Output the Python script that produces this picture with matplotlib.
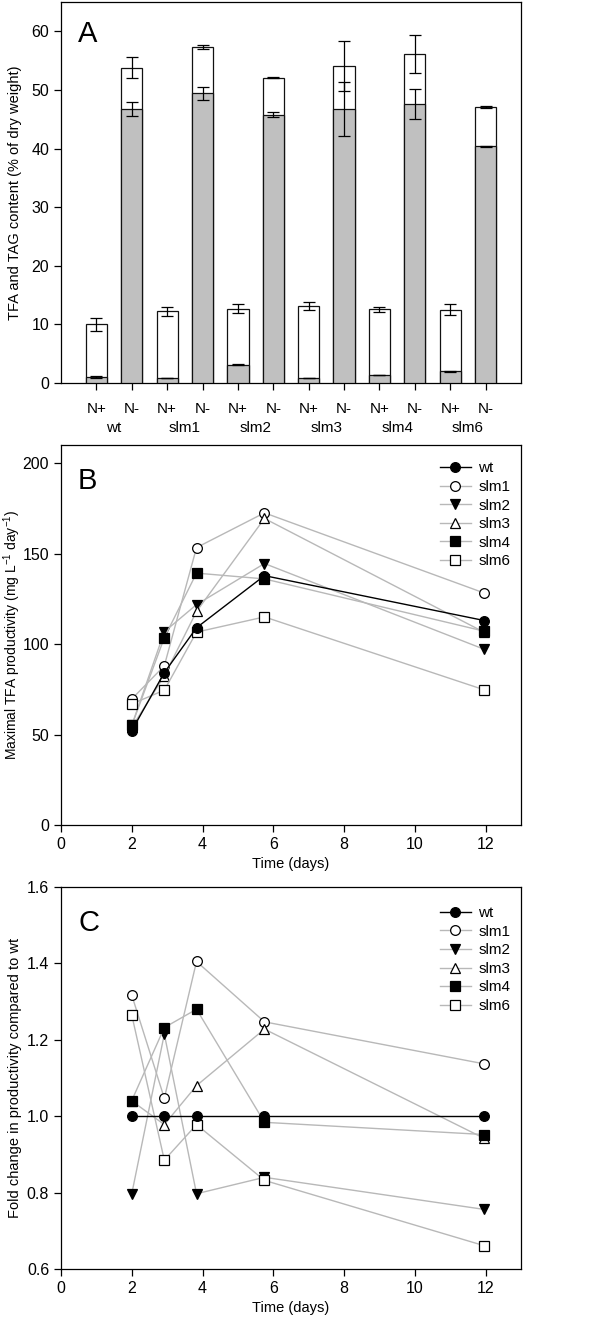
import matplotlib
matplotlib.use("Agg")
import matplotlib.pyplot as plt
import numpy as np

plt.rcParams['font.family'] = ['Liberation Sans', 'DejaVu Sans']
plt.rcParams['mathtext.fontset'] = 'custom'
plt.rcParams['mathtext.rm'] = 'Liberation Sans'

# ---- Panel A data ----
strains = ['wt', 'slm1', 'slm2', 'slm3', 'slm4', 'slm6']
conditions = ['N+', 'N-']
tfa_np = [10.0, 12.2, 12.7, 13.2, 12.6, 12.5]
tfa_np_err = [1.1, 0.7, 0.8, 0.7, 0.45, 0.95]
tag_np = [1.0, 0.85, 3.15, 0.85, 1.35, 2.0]
tag_np_err = [0.15, 0.05, 0.15, 0.0, 0.05, 0.1]
tfa_nm = [53.8, 57.3, 52.1, 54.1, 56.1, 47.1]
tfa_nm_err = [1.75, 0.4, 0.1, 4.3, 3.2, 0.2]
tag_nm = [46.7, 49.4, 45.8, 46.8, 47.6, 40.4]
tag_nm_err = [1.2, 1.1, 0.5, 4.6, 2.5, 0.1]

# ---- Panels B, C data ----
time_days = [2.0, 2.92, 3.83, 5.75, 11.96]
series = ['wt', 'slm1', 'slm2', 'slm3', 'slm4', 'slm6']
prod = {
    'wt':   [52.2, 84.2, 109.0, 137.8, 113.0],
    'slm1': [69.6, 88.0, 153.3, 172.5, 128.2],
    'slm2': [55.0, 106.8, 121.8, 144.5, 97.1],
    'slm3': [54.0, 82.4, 118.0, 169.4, 106.5],
    'slm4': [55.0, 103.5, 139.2, 136.0, 107.1],
    'slm6': [66.9, 74.5, 106.6, 115.0, 74.7],
}
fold = {
    'wt':   [1.0, 1.0, 1.0, 1.0, 1.0],
    'slm1': [1.317, 1.047, 1.405, 1.247, 1.137],
    'slm2': [0.797, 1.215, 0.797, 0.840, 0.756],
    'slm3': [1.04, 0.978, 1.08, 1.228, 0.942],
    'slm4': [1.041, 1.232, 1.28, 0.984, 0.952],
    'slm6': [1.265, 0.885, 0.978, 0.832, 0.661],
}
styles = {
    'wt':   dict(marker='o', mfc='black', color='black'),
    'slm1': dict(marker='o', mfc='white', color='#b8b8b8'),
    'slm2': dict(marker='v', mfc='black', color='#b8b8b8'),
    'slm3': dict(marker='^', mfc='white', color='#b8b8b8'),
    'slm4': dict(marker='s', mfc='black', color='#b8b8b8'),
    'slm6': dict(marker='s', mfc='white', color='#b8b8b8'),
}

fig = plt.figure(figsize=(6, 13.2), dpi=100)

L, W = 61/600, 460/600
def rect(top_px, bot_px):
    return [L, 1 - bot_px/1320, W, (bot_px - top_px)/1320]

def style_ax(ax):
    ax.tick_params(direction='out', length=5, width=0.9, labelsize=11.5)
    for sp in ax.spines.values():
        sp.set_linewidth(0.9)

# ---- Panel A ----
axA = fig.add_axes(rect(2, 383))
pos_np = np.arange(len(strains)) * 2 + 1
pos_nm = pos_np + 1
bw = 0.6
gray = '#c0c0c0'
ek = dict(ecolor='black', elinewidth=0.9, capsize=4, capthick=0.9)
axA.bar(pos_np, tfa_np, width=bw, color='white', edgecolor='#111111', linewidth=0.9, zorder=2)
axA.bar(pos_nm, tfa_nm, width=bw, color='white', edgecolor='#111111', linewidth=0.9, zorder=2)
axA.bar(pos_np, tag_np, width=bw, color=gray, edgecolor='#111111', linewidth=0.9, zorder=3)
axA.bar(pos_nm, tag_nm, width=bw, color=gray, edgecolor='#111111', linewidth=0.9, zorder=3)
axA.errorbar(pos_np, tfa_np, yerr=tfa_np_err, fmt='none', zorder=4, **ek)
axA.errorbar(pos_nm, tfa_nm, yerr=tfa_nm_err, fmt='none', zorder=4, **ek)
axA.errorbar(pos_np, tag_np, yerr=tag_np_err, fmt='none', zorder=4, **ek)
axA.errorbar(pos_nm, tag_nm, yerr=tag_nm_err, fmt='none', zorder=4, **ek)
axA.set_xlim(0, 13)
axA.set_ylim(0, 65)
axA.set_yticks([0, 10, 20, 30, 40, 50, 60])
ticks = np.sort(np.concatenate([pos_np, pos_nm]))
axA.set_xticks(ticks)
axA.set_xticklabels(conditions * len(strains))
style_ax(axA)
axA.tick_params(axis='x', pad=9, labelsize=11)
for i, s in enumerate(strains):
    axA.text((pos_np[i] + pos_nm[i]) / 2, -0.117, s, transform=axA.get_xaxis_transform(),
             ha='center', va='center', fontsize=11)
axA.set_ylabel('TFA and TAG content (% of dry weight)', fontsize=10.5)
axA.yaxis.set_label_coords(-0.085, 0.5)
axA.text(0.037, 0.915, 'A', transform=axA.transAxes, fontsize=21, ha='left', va='center')

leg_kw = dict(loc='upper right', frameon=False, fontsize=11, handlelength=2.0,
              labelspacing=0.3, handletextpad=0.5, borderaxespad=0.3)

# ---- Panel B ----
axB = fig.add_axes(rect(445, 825))
for s in series:
    st = styles[s]
    axB.plot(time_days, prod[s], color=st['color'], lw=1.0, marker=st['marker'],
             mfc=st['mfc'], mec='black', mew=0.9, ms=7, label=s,
             zorder=5 if s == 'wt' else 3)
axB.set_xlim(0, 13)
axB.set_ylim(0, 210)
axB.set_xticks([0, 2, 4, 6, 8, 10, 12])
axB.set_yticks([0, 50, 100, 150, 200])
axB.set_xlabel('Time (days)', fontsize=10.5, labelpad=4)
axB.set_ylabel(r'Maximal TFA productivity (mg L$^{\mathregular{-1}}$ day$^{\mathregular{-1}}$)',
               fontsize=10)
axB.yaxis.set_label_coords(-0.083, 0.5)
axB.text(0.037, 0.905, 'B', transform=axB.transAxes, fontsize=21, ha='left', va='center')
axB.legend(bbox_to_anchor=(1.0, 0.985), **leg_kw)
style_ax(axB)

# ---- Panel C ----
axC = fig.add_axes(rect(887, 1269))
for s in series:
    st = styles[s]
    axC.plot(time_days, fold[s], color=st['color'], lw=1.0, marker=st['marker'],
             mfc=st['mfc'], mec='black', mew=0.9, ms=7, label=s,
             zorder=5 if s == 'wt' else 3)
axC.set_xlim(0, 13)
axC.set_ylim(0.6, 1.6)
axC.set_xticks([0, 2, 4, 6, 8, 10, 12])
axC.set_yticks([0.6, 0.8, 1.0, 1.2, 1.4, 1.6])
axC.set_yticklabels(['0.6', '0.8', '1.0', '1.2', '1.4', '1.6'])
axC.set_xlabel('Time (days)', fontsize=10.5, labelpad=4)
axC.set_ylabel('Fold change in productivity compared to wt', fontsize=10.5)
axC.yaxis.set_label_coords(-0.085, 0.5)
axC.text(0.037, 0.905, 'C', transform=axC.transAxes, fontsize=21, ha='left', va='center')
axC.legend(bbox_to_anchor=(1.0, 0.978), **leg_kw)
style_ax(axC)

fig.savefig('out.png', dpi=100)
